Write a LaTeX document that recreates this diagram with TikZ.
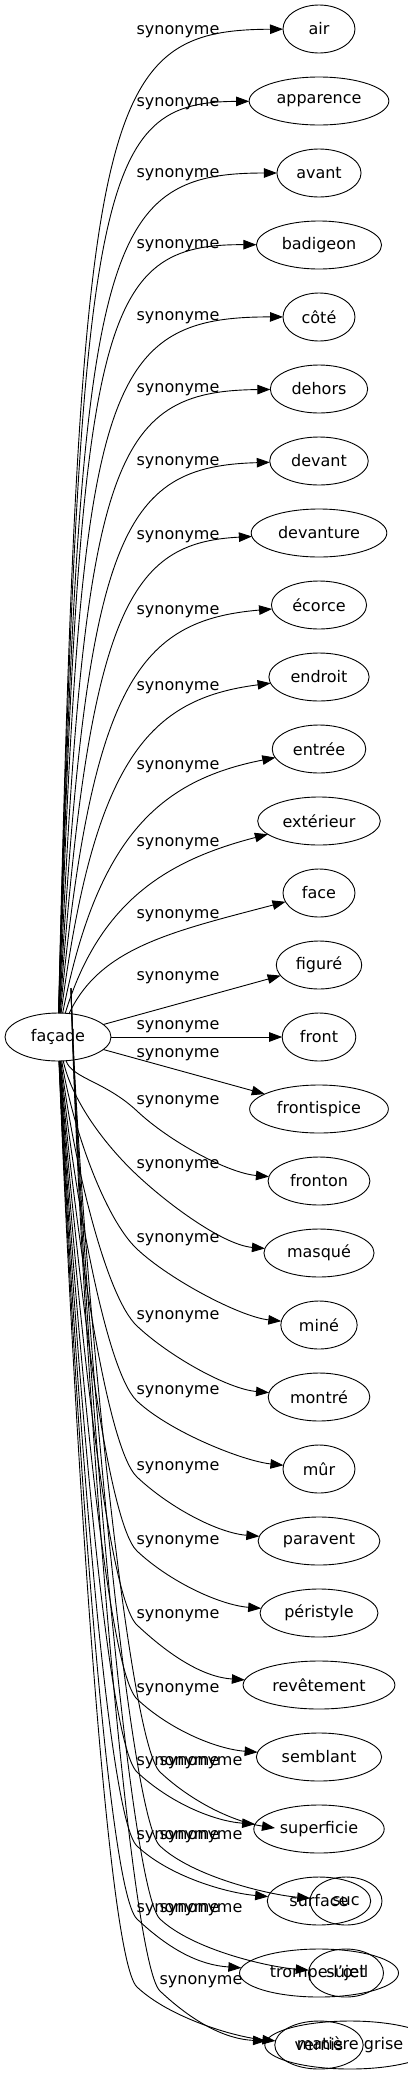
\documentclass[tikz,border=0pt]{standalone}
\usepackage{fontspec}
\setmainfont{DejaVu Sans}
\usetikzlibrary{arrows.meta,shapes.geometric,calc}

\begin{document}
\begin{tikzpicture}[x=1pt, y=-1pt, >={Triangle[length=13pt,width=9.5pt]},
  word/.style={draw, ellipse, line width=0.9pt, inner xsep=7pt, inner ysep=0pt,
    minimum width=72pt, minimum height=48pt, outer sep=0pt,
    font=\fontsize{16pt}{19pt}\selectfont},
  rel/.style={inner sep=0pt, font=\fontsize{16pt}{19pt}\selectfont},
  syn/.style={->, line width=0.9pt}]

  \useasboundingbox (0,0) rectangle (407,2075);

  % source word
  \node[word, minimum width=106pt] (facade) at (58,1037) {façade};

  % synonyms, one row every 72px
  \foreach \n/\txt [count=\i from 0] in {air/air, apparence/apparence, avant/avant,
      badigeon/badigeon, cote/côté, dehors/dehors, devant/devant, devanture/devanture,
      ecorce/écorce, endroit/endroit, entree/entrée, exterieur/extérieur, face/face,
      figure/figuré, front/front, frontispice/frontispice, fronton/fronton,
      masque/masqué, mine/miné, montre/montré, mur/mûr, paravent/paravent,
      peristyle/péristyle, revetement/revêtement, semblant/semblant,
      superficie/superficie, surface/surface, trompe/trompe-l'œil, vernis/vernis} {
    \node[word] (\n) at (319,{29+72*\i}) {\txt};
  }

  % words drawn over the last rows
  \node[word] (suc) at (346,1901) {suc};
  \node[word] (sujet) at (346,1973) {sujet};
  \node[word] (matiere) at (350,2045) {matière grise};

  % edges going up
  \foreach \n/\ly in {air/32, apparence/104, avant/175, badigeon/246, cote/318,
      dehors/390, devant/463, devanture/537, ecorce/612, endroit/688, entree/767,
      exterieur/844, face/916} {
    \pgfmathsetmacro\f{max(0,min(1,(\ly-300)/550))}
    \pgfmathsetmacro\ax{80+20*\f}
    \pgfmathsetmacro\ay{\ly+min(70,0.33*(1013-\ly))}
    \pgfmathsetmacro\bx{100+70*\f}
    \pgfmathsetmacro\by{\ly-2+18*\f}
    \draw[syn] (facade) .. controls (\ax,\ay) and (\bx,\by) .. (\n);
  }

  % edges near the middle
  \draw[syn] (facade) -- (figure);
  \draw[syn] (facade) -- (front);
  \draw[syn] (facade) -- (frontispice);

  % edges going down
  \foreach \n/\ly in {fronton/1102, masque/1166, mine/1240, montre/1317, mur/1392,
      paravent/1468, peristyle/1542, revetement/1616, semblant/1690,
      superficie/1763, surface/1837, trompe/1910, vernis/1978} {
    \pgfmathsetmacro\my{\ly+9}
    \draw[syn] (facade) .. controls (72,{1061+0.35*(\my-1061)}) and (105,{\my-30}) .. (137,\my)
      .. controls (170,{\my+31}) and ($(\n.west)+(-40,-8)$) .. (\n);
  }

  % second bundle, from above the source
  \coordinate (facade2) at (71,988);
  \coordinate (superficie2) at (275,1828);
  \draw[syn] (facade2) .. controls (80,{988+0.35*(1772-988)}) and (128,1742) .. (160,1772)
    .. controls (193,1803) and (235,1822) .. (superficie2);
  \foreach \n/\ly in {suc/1837, sujet/1910, matiere/1982} {
    \pgfmathsetmacro\my{\ly+9}
    \draw[syn] (facade2) .. controls (80,{988+0.35*(\my-988)}) and (128,{\my-30}) .. (160,\my)
      .. controls (193,{\my+31}) and ($(\n.west)+(-40,-6)$) .. (\n);
  }

  % edge labels
  \foreach \ly [count=\k] in {32,104,175,246,318,390,463,537,612,688,767,844,916,978,
      1027,1055,1102,1166,1240,1317,1392,1468,1542,1616,1690,1763,1837,1910} {
    \node[rel] (lab\k) at (178,\ly) {synonyme};
  }
  \foreach \ly [count=\k] in {1763,1837,1910,1982} {
    \node[rel] (labb\k) at (201,\ly) {synonyme};
  }

\end{tikzpicture}
\end{document}
